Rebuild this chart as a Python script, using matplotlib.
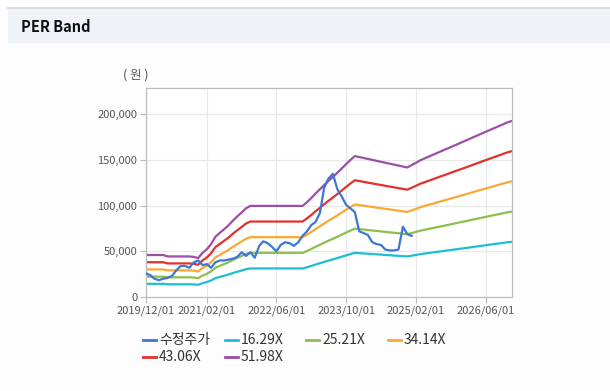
import matplotlib
matplotlib.use("Agg")
import matplotlib.pyplot as plt
from matplotlib.lines import Line2D
import numpy as np
import pandas as pd

plt.rcParams['font.family'] = ['Noto Sans CJK KR', 'DejaVu Sans']

# monthly EPS (won), 2019/12 .. 2026/12
eps = [885, 885, 885, 885, 885,
       855, 855, 855, 855, 855, 855, 845, 820,
       930, 1010, 1110, 1270, 1350, 1430, 1510, 1610, 1700, 1780, 1870, 1920,
       1920, 1920, 1920, 1920, 1920, 1920, 1920, 1920, 1920, 1920, 1920, 1920,
       2000, 2090, 2180, 2270, 2360, 2450, 2530, 2620, 2710, 2800, 2890, 2970,
       2950, 2930, 2910, 2890, 2870, 2850, 2830, 2810, 2790, 2770, 2750, 2730,
       2780, 2830, 2880, 2920, 2960, 3000, 3040, 3080, 3120, 3160, 3200, 3240,
       3280, 3320, 3360, 3400, 3440, 3480, 3520, 3560, 3600, 3640, 3680, 3710]

# adjusted close (won), monthly 2019/12 .. 2025/01
price = [26000, 24000, 20000, 18500, 20000, 21000, 23000, 29000, 34000, 34000,
         32000, 38000, 40000, 35000, 36000, 32000, 38000, 40000, 40000, 41000,
         42000, 44000, 49000, 45000, 49000, 43000, 56000, 61000, 59000, 55000,
         50000, 57000, 60000, 59000, 56000, 60000, 67000, 72000, 79000, 82000,
         92000, 120000, 130000, 135000, 118000, 110000, 101000, 97000, 93000, 72000,
         70000, 68000, 60000, 58000, 57000, 52000, 51000, 51000, 52000, 77000,
         69000, 67000]

multiples = [16.29, 25.21, 34.14, 43.06, 51.98]
band_labels = ['16.29X', '25.21X', '34.14X', '43.06X', '51.98X']
band_colors = ['#1cbfd0', '#8fbd4e', '#f9a833', '#e2302b', '#9b4fa6']
price_label = '수정주가'
price_color = '#3b78d6'

tick_dates = ['2019-12-01', '2021-02-01', '2022-06-01', '2023-10-01', '2025-02-01', '2026-06-01']
tick_labels = ['2019/12/01', '2021/02/01', '2022/06/01', '2023/10/01', '2025/02/01', '2026/06/01']
y_ticks = [0, 50000, 100000, 150000, 200000]

W, H = 610, 391
fig = plt.figure(figsize=(W / 100, H / 100), dpi=100)
fig.patch.set_facecolor('#fdfdfd')

# header strip
fig.patches.append(plt.Rectangle((0, 1 - 8 / H), 1, 8 / H, transform=fig.transFigure,
                                 facecolor='white', edgecolor='none', zorder=0))
fig.patches.append(plt.Rectangle((8 / W, 1 - 43 / H), 1, 35 / H, transform=fig.transFigure,
                                 facecolor='#eff2f7', edgecolor='none', zorder=0))
fig.lines.append(Line2D([8 / W, 1], [1 - 8 / H, 1 - 8 / H], transform=fig.transFigure,
                        color='#d4d6da', lw=1.2))
fig.text(21 / W, 1 - 27 / H, 'PER Band', fontsize=10.5, fontweight='bold',
         va='center', ha='left', color='#111111')

ax = fig.add_axes([145.7 / W, 1 - 297 / H, (511.7 - 145.7) / W, (297 - 88) / H])
ax.set_facecolor('white')

dates = pd.date_range('2019-12-01', periods=len(eps), freq='MS')
eps_arr = np.array(eps, dtype=float)
for m, lab, c in zip(multiples, band_labels, band_colors):
    ax.plot(dates, eps_arr * m, color=c, lw=1.6, label=lab, zorder=2)
ax.plot(dates[:len(price)], price, color=price_color, lw=1.6, label=price_label, zorder=3)

ax.set_xlim(pd.Timestamp('2019-12-01'), pd.Timestamp('2026-12-01'))
ax.set_ylim(0, 229000)
ax.set_xticks([pd.Timestamp(d) for d in tick_dates])
ax.set_xticklabels(tick_labels)
ax.set_yticks(y_ticks)
ax.set_yticklabels([f'{v:,}' for v in y_ticks])
ax.grid(True, color='#e9e9e9', lw=0.9)
ax.set_axisbelow(True)
for s in ax.spines.values():
    s.set_color('#bdbdbd')
    s.set_linewidth(0.9)
ax.tick_params(axis='both', length=4, width=0.8, color='#bdbdbd',
               labelsize=8, labelcolor='#555555', pad=2)

fig.text(136 / W, 1 - 75 / H, '( 원 )', fontsize=9, ha='center', va='center', color='#555555')

# legend, fixed-width columns
handles = {l.get_label(): l for l in ax.get_lines()}
order = [price_label] + band_labels
for i, lab in enumerate(order):
    col, row = i % 4, i // 4
    x0 = 143 + col * 81.7
    y0 = 340 + row * 17
    fig.lines.append(Line2D([x0 / W, (x0 + 13) / W], [1 - y0 / H, 1 - y0 / H],
                            transform=fig.transFigure, color=handles[lab].get_color(), lw=2))
    fig.text((x0 + 16) / W, 1 - y0 / H, lab, fontsize=10, ha='left', va='center', color='#333333')

fig.savefig('out.png', dpi=100, facecolor=fig.get_facecolor())
